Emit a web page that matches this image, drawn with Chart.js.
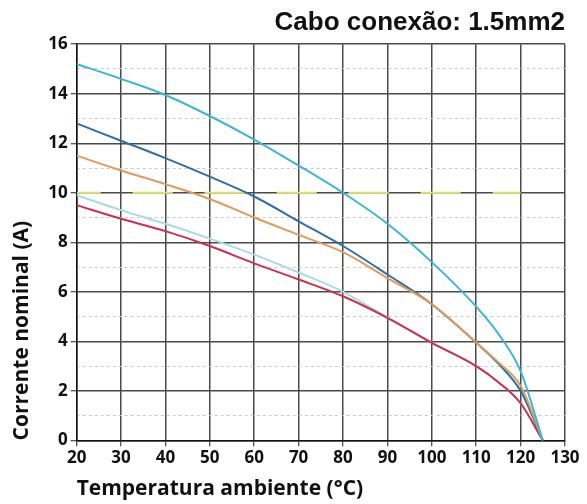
<!DOCTYPE html>
<html>
<head>
<meta charset="utf-8">
<script src="https://cdn.jsdelivr.net/npm/chart.js@4"></script>
<style>
  html, body { margin: 0; padding: 0; background: #fff; }
  #c { display: block; }
</style>
</head>
<body>
<canvas id="c" width="587" height="504"></canvas>
<script>
// ---- data ----
const temps      = [20, 30, 40, 50, 60, 70, 80, 90, 100, 110, 115, 120, 125];
const cyanSeries = [15.2, 14.6, 13.95, 13.1, 12.15, 11.1, 10.0, 8.75, 7.2, 5.4, 4.3, 2.8, 0];
const navySeries = [12.8, 12.1, 11.4, 10.65, 9.85, 8.85, 7.85, 6.7, 5.5, 3.95, 3.1, 2.0, 0];
const orangeSeries = [11.5, 10.9, 10.35, 9.75, 9.0, 8.3, 7.6, 6.55, 5.5, 3.95, 3.15, 2.2, 0];
const lightSeries  = [9.9, 9.3, 8.75, 8.15, 7.5, 6.78, 6.0, 4.97, 3.95, 3.0, 2.35, 1.5, 0];
const redSeries    = [9.5, 8.95, 8.45, 7.85, 7.15, 6.5, 5.82, 4.95, 3.94, 3.0, 2.35, 1.5, 0];
const limitX = [20, 120];
const limitY = [10, 10];
const xTicks = [20, 30, 40, 50, 60, 70, 80, 90, 100, 110, 120, 130];
const yTicks = [0, 2, 4, 6, 8, 10, 12, 14, 16];
const titleText = 'Cabo conexão: 1.5mm2';
const xTitle = 'Temperatura ambiente (°C)';
const yTitle = 'Corrente nominal (A)';

const pts = (xs, ys) => xs.map((x, i) => ({ x: x, y: ys[i] }));

function lineDs(label, xs, ys, color, order, extra) {
  return Object.assign({
    label: label,
    data: pts(xs, ys),
    borderColor: color,
    backgroundColor: color,
    borderWidth: 2,
    pointRadius: 0,
    fill: false,
    cubicInterpolationMode: 'monotone',
    order: order
  }, extra || {});
}

const tickFont = { family: '"Open Sans", sans-serif', weight: 'bold', size: 17 };
const axisTitleFont = { family: '"Open Sans", sans-serif', weight: 'bold', size: 21 };

new Chart(document.getElementById('c'), {
  type: 'line',
  data: {
    datasets: [
      lineDs('limite', limitX, limitY, '#dfe066', 6, { borderDash: [40, 32], borderDashOffset: 16, cubicInterpolationMode: 'default', tension: 0 }),
      lineDs('s1', temps, lightSeries, '#a8dbe7', 5),
      lineDs('s2', temps, redSeries, '#cf2f4c', 4),
      lineDs('s3', temps, navySeries, '#306fa3', 3),
      lineDs('s4', temps, orangeSeries, '#e29a5c', 2),
      lineDs('s5', temps, cyanSeries, '#3db5d3', 1)
    ]
  },
  options: {
    responsive: false,
    animation: false,
    devicePixelRatio: 1,
    layout: { padding: { left: 9, right: 22, top: 0, bottom: 0 } },
    plugins: {
      legend: { display: false },
      tooltip: { enabled: false },
      title: {
        display: true,
        text: titleText,
        align: 'end',
        color: '#111',
        font: { family: '"Liberation Sans", Arial, sans-serif', weight: 'bold', size: 26 },
        padding: { top: 7, bottom: 6 }
      }
    },
    scales: {
      x: {
        type: 'linear',
        min: 20, max: 130,
        afterBuildTicks: (s) => { s.ticks = xTicks.map(v => ({ value: v })); },
        ticks: { color: '#111', font: tickFont, padding: 2, maxRotation: 0 },
        grid: { color: '#4a4a4a', lineWidth: 1.5, tickLength: 6, tickColor: '#222', tickWidth: 1 },
        border: { color: '#111', width: 1.5 },
        title: { display: true, text: xTitle, align: 'start', color: '#111', font: axisTitleFont, padding: { top: 6, bottom: 2 } }
      },
      y: {
        type: 'linear',
        min: 0, max: 16,
        afterBuildTicks: (s) => { s.ticks = yTicks.map(v => ({ value: v })); },
        ticks: { color: '#111', font: tickFont, padding: 3 },
        grid: { color: '#4a4a4a', lineWidth: 1.5, tickLength: 6, tickColor: '#222', tickWidth: 1 },
        border: { color: '#111', width: 1.5 },
        title: { display: true, text: yTitle, align: 'start', color: '#111', font: axisTitleFont, padding: { top: 0, bottom: 11 } }
      },
      yMinor: {
        type: 'linear',
        position: 'right',
        min: 0, max: 16,
        ticks: { display: false, stepSize: 1 },
        grid: {
          drawTicks: false,
          lineWidth: 1,
          color: (ctx) => (ctx.tick && ctx.tick.value % 2 === 1) ? '#c8c8c8' : 'rgba(0,0,0,0)'
        },
        border: { display: false, dash: [3, 3] }
      }
    }
  }
});
</script>
</body>
</html>
